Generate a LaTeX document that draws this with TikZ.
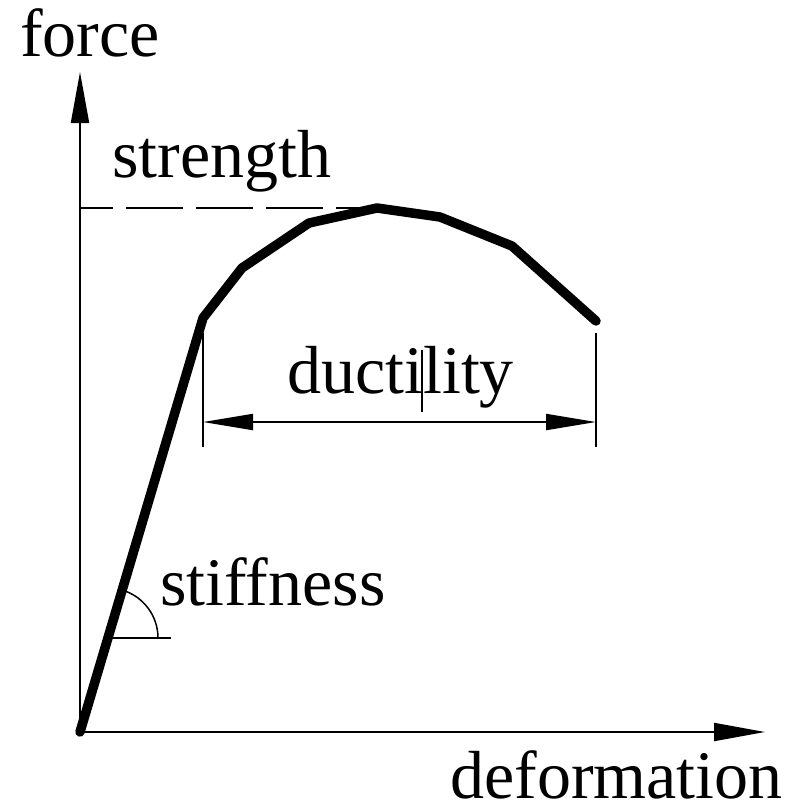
\documentclass[tikz,border=0pt]{standalone}
\usepackage{fontspec}
\setmainfont{Liberation Serif}
\usetikzlibrary{arrows.meta}
\tikzset{
  lbl/.style={anchor=base west,inner sep=0pt,font=\fontsize{68}{80}\selectfont},
  axis/.style={line width=2pt,-{Triangle[length=51pt,width=18pt]}},
  dimline/.style={line width=2pt},
  curve/.style={line width=9.5pt,line cap=round,line join=round}
}
\begin{document}
\begin{tikzpicture}[x=1pt,y=-1pt]
 \useasboundingbox (0,0) rectangle (794,807);
%axes
  \coordinate (o) at (80,732);
  \coordinate (ytip) at (80,72);
  \coordinate (xtip) at (765,732);
  \draw[axis] (o) -- (ytip);
  \draw[axis] (o) -- (xtip);
  \node[lbl] (force) at (20,56) {force};
  \node[lbl] (deform) at (450,798) {deformation};
%curve
  \coordinate (yield) at (203,318);
  \coordinate (peak) at (377,208);
  \coordinate (fail) at (596,321);
  \draw[curve] (o) -- (yield) -- (242,268) -- (309,223) -- (peak)
    -- (440,217) -- (512,246) -- (fail);
%strength
  \coordinate (sy) at (80,208);
  \draw[dimline,dash pattern=on 57pt off 13pt,dash phase=24pt] (sy) -- (peak);
  \node[lbl] (strength) at (112,177) {strength};
%ductility
  \coordinate (dl) at (203,447);
  \coordinate (dr) at (596,447);
  \coordinate (al) at (203,422);
  \coordinate (ar) at (596,422);
  \draw[dimline] (203,333) -- (dl);
  \draw[dimline] (596,333) -- (dr);
  \draw[dimline,{Triangle[length=50pt,width=16pt]}-{Triangle[length=50pt,width=16pt]}] (al) -- (ar);
  \node[lbl] (duct) at (287,393) {ductility};
  \draw[line width=1.5pt] (422,350) -- (422,412);
%stiffness
  \coordinate (sc) at (108,638);
  \draw[dimline] (sc) -- (171,638);
  \draw[line width=1.5pt] (158,638) arc[start angle=0,end angle=-73.5,radius=50];
  \node[lbl] (stiff) at (160,605) {stiffness};
\end{tikzpicture}
\end{document}
